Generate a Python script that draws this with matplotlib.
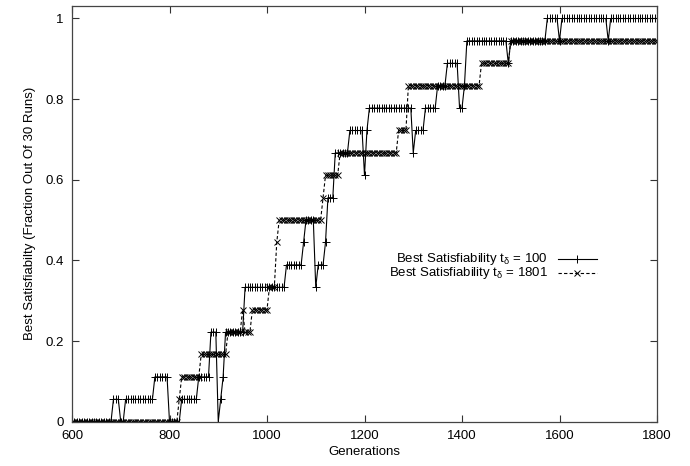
import numpy as np
import matplotlib
matplotlib.use("Agg")
import matplotlib.pyplot as plt

plt.rcParams['font.family'] = ['Liberation Sans', 'DejaVu Sans']
plt.rcParams['mathtext.default'] = 'regular'

# generaciones muestreadas cada 5
gens = np.arange(600, 1801, 5)

# t_delta = 100: generacion donde cambia el valor y nivel (en 18avos)
t100_start = [600, 685, 700, 710, 770, 800, 825, 860, 885, 900, 905, 910, 915, 955,
              1040, 1075, 1080, 1100, 1105, 1120, 1125, 1140, 1170, 1200, 1205, 1210,
              1300, 1305, 1325, 1350, 1370, 1395, 1405, 1410, 1495, 1500, 1575, 1600,
              1605, 1700, 1705]
t100_level = [0, 1, 0, 1, 2, 0, 1, 2, 4, 0, 1, 2, 4, 6,
              7, 8, 9, 6, 7, 8, 10, 12, 13, 11, 13, 14,
              12, 13, 14, 15, 16, 14, 15, 17, 16, 17, 18, 17,
              18, 17, 18]

# t_delta = 1801
t1801_start = [600, 820, 825, 865, 920, 950, 955, 970, 1005, 1020, 1025, 1115, 1120,
               1150, 1270, 1290, 1440, 1500]
t1801_level = [0, 1, 2, 3, 4, 5, 4, 5, 6, 8, 9, 10, 11,
               12, 13, 15, 16, 17]


def expand(starts, levels):
    idx = np.searchsorted(starts, gens, side='right') - 1
    return np.array(levels)[idx] / 18.0


y100 = expand(t100_start, t100_level)
y1801 = expand(t1801_start, t1801_level)

fs = 9.5
fig = plt.figure(figsize=(6.9, 4.66), dpi=100)
ax = fig.add_axes([72 / 690, 1 - 421.7 / 466, 585 / 690, 415.7 / 466])

ax.plot(gens, y100, color='black', lw=0.8, marker='+', ms=6, mew=0.7)
ax.plot(gens, y1801, color='black', lw=0.8, ls=(0, (3, 2)), marker='x', ms=4, mew=0.7)

ax.set_xlim(600, 1800)
ax.set_ylim(0, 1.031)
ax.set_xticks([600, 800, 1000, 1200, 1400, 1600, 1800])
ax.set_yticks([0, 0.2, 0.4, 0.6, 0.8, 1])
ax.set_yticklabels(['0', '0.2', '0.4', '0.6', '0.8', '1'])
ax.tick_params(direction='in', top=True, right=True, length=5, width=0.8,
               labelsize=fs, color='#333333', pad=6)
for s in ax.spines.values():
    s.set_color('#444444')
    s.set_linewidth(0.9)

ax.set_xlabel('Generations', fontsize=fs, labelpad=3)
ax.set_ylabel('Best Satisfiabilty (Fraction Out Of 30 Runs)', fontsize=fs, labelpad=7)

# leyenda estilo gnuplot (texto alineado a la derecha)
ly1, ly2 = 0.392, 0.357
ax.text(0.814, ly1, r'Best Satisfiability t$_{\delta}$ = 100', transform=ax.transAxes,
        ha='right', va='center', fontsize=fs)
ax.text(0.814, ly2, r'Best Satisfiability t$_{\delta}$ = 1801', transform=ax.transAxes,
        ha='right', va='center', fontsize=fs)
ax.plot([0.831, 0.897], [ly1, ly1], transform=ax.transAxes, color='black', lw=0.8)
ax.plot([0.864], [ly1], transform=ax.transAxes, color='black', marker='+', ms=6, mew=0.7)
ax.plot([0.831, 0.897], [ly2, ly2], transform=ax.transAxes, color='black', lw=0.8,
        ls=(0, (3, 2)))
ax.plot([0.864], [ly2], transform=ax.transAxes, color='black', marker='x', ms=4, mew=0.7)

fig.savefig('out.png', dpi=100)
